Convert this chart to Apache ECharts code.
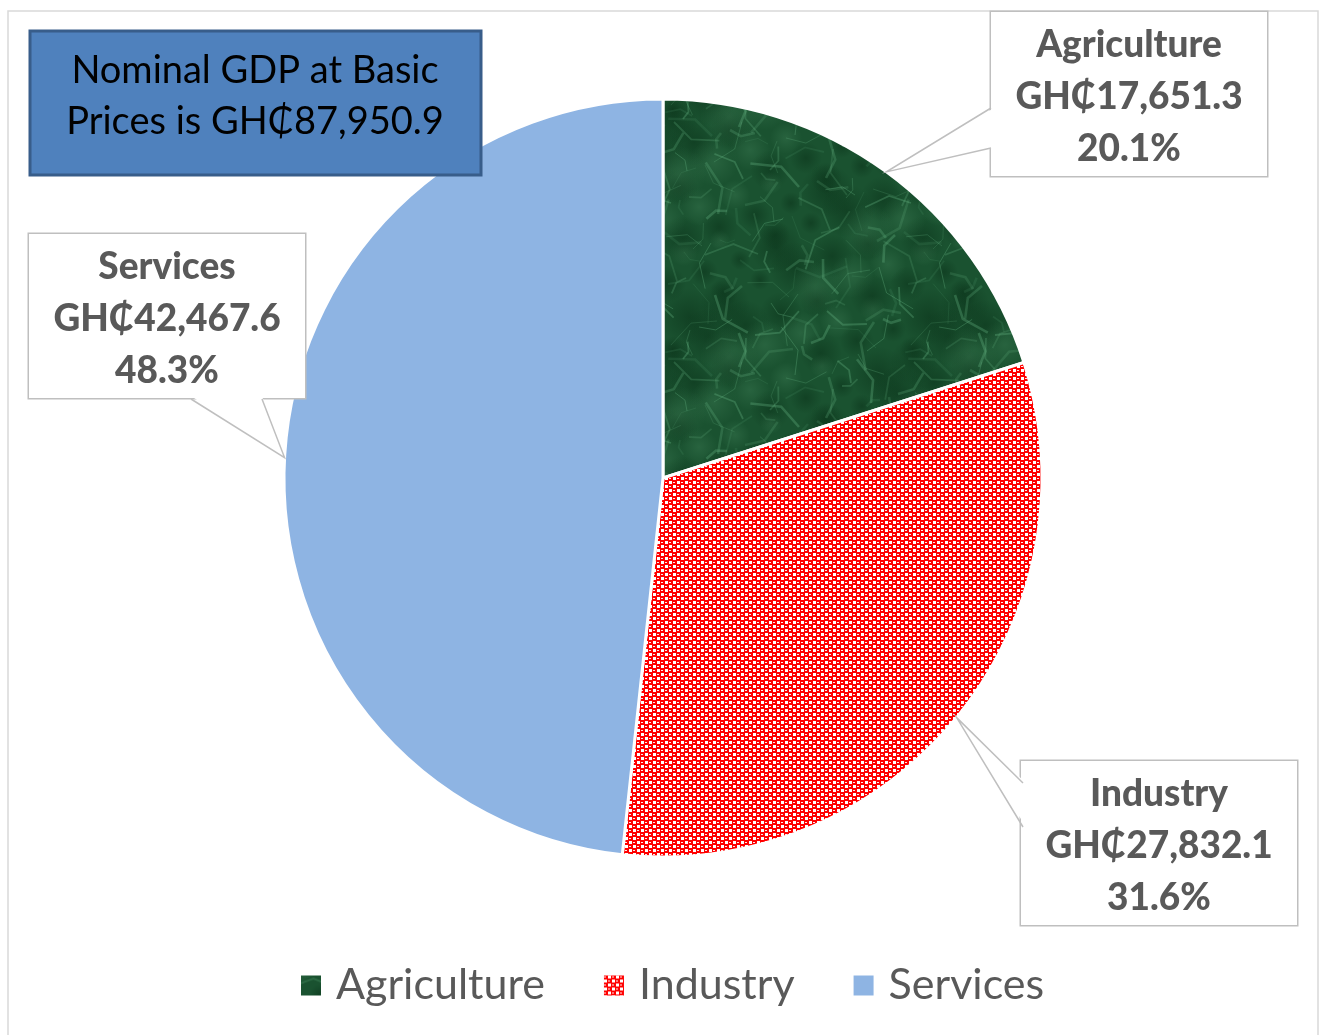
<!DOCTYPE html>
<html><head><meta charset="utf-8">
<script src="https://cdn.jsdelivr.net/npm/echarts/dist/echarts.min.js"></script>
<style>html,body{margin:0;padding:0;background:#fff}#c{width:1320px;height:1035px}</style>
</head><body><div id="c"></div>
<script>
// ---- data ----
const categories = ['Agriculture', 'Industry', 'Services'];
const values = [17651.3, 27832.1, 42467.6];
const totalText = ['Nominal GDP at Basic', 'Prices is GH\u20B587,950.9'];
const currency = 'GH\u20B5';

// ---- layout / style ----
const FONT = "Lato, 'Noto Sans', 'DejaVu Sans', sans-serif";
const CX = 663, CY = 478, R = 379;
const boxCenters = [[1129, 94], [1159, 843], [167, 316]];
const wedgeBases = [
  [[991, 108], [991, 148], [3, 0]],
  [[1023, 783], [1023, 827], [3, 0]],
  [[191, 399], [262, 399], [0, -3]]
];

function greenTexture() {
  const S = 240;
  const c = document.createElement('canvas');
  c.width = S; c.height = S;
  const g = c.getContext('2d');
  g.fillStyle = '#1a5230'; g.fillRect(0, 0, S, S);
  const offs = [-S, 0, S];
  for (let i = 0; i < 60; i++) {
    const x0 = (i * 97) % S, y0 = (i * 61) % S, r = 10 + (i * 7) % 20;
    const col = i % 3 ? [5, 40, 18, 0.4] : [90, 160, 115, 0.22];
    offs.forEach(ox => offs.forEach(oy => {
      const x = x0 + ox, y = y0 + oy;
      const gr = g.createRadialGradient(x, y, 0, x, y, r);
      gr.addColorStop(0, 'rgba(' + col.slice(0, 3).join(',') + ',' + col[3] + ')');
      gr.addColorStop(1, 'rgba(' + col.slice(0, 3).join(',') + ',0)');
      g.fillStyle = gr;
      g.fillRect(x - r, y - r, 2 * r, 2 * r);
    }));
  }
  for (let i = 0; i < 110; i++) {
    const x0 = (i * 53) % S, y0 = (i * 89) % S;
    const a = i * 2.39, l = 15 + (i * 13) % 40;
    g.strokeStyle = 'rgba(110,190,140,' + (0.12 + (i % 4) * 0.06) + ')';
    g.lineWidth = 1 + (i % 3) * 0.8;
    offs.forEach(ox => offs.forEach(oy => {
      const x = x0 + ox, y = y0 + oy;
      g.beginPath(); g.moveTo(x, y);
      g.lineTo(x + Math.cos(a + 0.4) * l * 0.5, y + Math.sin(a + 0.4) * l * 0.5);
      g.lineTo(x + Math.cos(a) * l, y + Math.sin(a) * l);
      g.stroke();
    }));
  }
  return c;
}
function redTexture() {
  const c = document.createElement('canvas');
  c.width = 8; c.height = 8;
  const g = c.getContext('2d');
  g.fillStyle = '#ffffff'; g.fillRect(0, 0, 8, 8);
  g.fillStyle = '#ff0000';
  g.fillRect(0, 0, 5, 5); g.fillRect(4, 4, 5, 5); g.fillRect(-1, 4, 2, 5); g.fillRect(4, -1, 5, 2);
  g.fillStyle = '#ffe8e8'; g.fillRect(1, 2, 2, 1); g.fillRect(5, 6, 2, 1);
  return c;
}
const fills = [
  { image: greenTexture(), repeat: 'repeat' },
  { image: redTexture(), repeat: 'repeat' },
  '#8eb4e3'
];

function fmt(v) { return v.toLocaleString('en-US', { minimumFractionDigits: 1, maximumFractionDigits: 1 }); }

const total = values.reduce((a, b) => a + b, 0);
const wedges = [];
let cum = 0;
values.forEach((v, i) => {
  const a = (cum + v / 2) / total * Math.PI * 2;
  cum += v;
  const tip = [CX + R * Math.sin(a), CY - R * Math.cos(a)];
  const [b1, b2, d] = wedgeBases[i];
  wedges.push({
    type: 'polygon', z: 100,
    shape: { points: [[b1[0] + d[0], b1[1] + d[1]], tip, [b2[0] + d[0], b2[1] + d[1]]] },
    style: { fill: '#fff', stroke: null }
  });
  wedges.push({
    type: 'polyline', z: 101,
    shape: { points: [b1, tip, b2] },
    style: { stroke: '#bfbfbf', lineWidth: 1.5, fill: null }
  });
});

const chart = echarts.init(document.getElementById('c'), null, { renderer: 'canvas' });
const txt = { fontFamily: FONT, fontSize: 37, fontWeight: 900, color: '#595959', lineHeight: 52 };
chart.setOption({
  animation: false,
  backgroundColor: '#fff',
  legend: {
    data: categories, left: 294, top: 959,
    icon: 'rect', itemWidth: 22, itemHeight: 22, itemGap: 57,
    textStyle: { fontFamily: FONT, fontSize: 43, color: '#595959', padding: [0, 0, 0, 9] }
  },
  graphic: [
    { type: 'rect', z: 0, shape: { x: 8, y: 11, width: 1310, height: 1040 }, style: { fill: null, stroke: '#d9d9d9', lineWidth: 1.5 } },
    { type: 'rect', z: 50, shape: { x: 30, y: 31, width: 451, height: 144 }, style: { fill: '#4f81bd', stroke: '#385d8a', lineWidth: 3 } },
    { type: 'text', z: 51, x: 255, y: 96, style: { text: totalText.join('\n'), fontFamily: FONT, fontSize: 38, lineHeight: 51, fill: '#000', align: 'center', verticalAlign: 'middle' } }
  ].concat(wedges),
  series: [{
    type: 'pie',
    center: [CX, CY], radius: R,
    startAngle: 90, clockwise: true,
    percentPrecision: 1,
    emphasis: { disabled: true },
    itemStyle: { borderColor: '#fff', borderWidth: 3 },
    labelLine: { show: false },
    label: {
      show: true, position: 'outside',
      formatter: p => '{t|' + p.name + '}\n{t|' + currency + fmt(p.value) + '}\n{t|' + p.percent.toFixed(1) + '%}',
      rich: { t: txt },
      backgroundColor: '#fff', borderColor: '#bfbfbf', borderWidth: 1.5,
      padding: [7, 14, 1, 14], width: 248, align: 'center'
    },
    labelLayout: p => ({ x: boxCenters[p.dataIndex][0], y: boxCenters[p.dataIndex][1], align: 'center', verticalAlign: 'middle' }),
    data: categories.map((c, i) => ({ name: c, value: values[i], itemStyle: { color: fills[i] } }))
  }]
});
</script></body></html>
